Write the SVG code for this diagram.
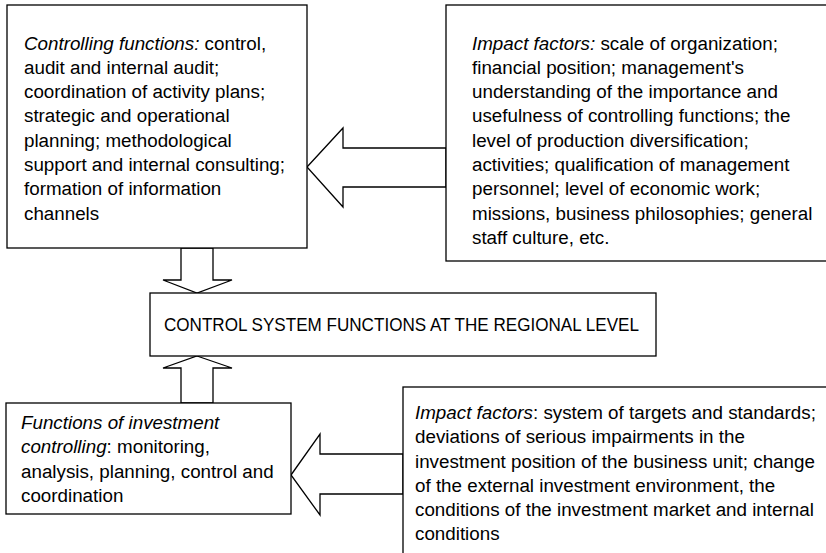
<svg xmlns="http://www.w3.org/2000/svg" width="826" height="553" viewBox="0 0 826 553">
<style>
.box{fill:#fff;stroke:#000;stroke-width:1.3}
.arr{fill:#fff;stroke:#000;stroke-width:1.3;stroke-linejoin:miter}
text{font-family:"Liberation Sans",Arial,sans-serif;font-size:18.8px;fill:#000}
.it{font-style:italic}
.c{font-size:17.5px}
</style>
<rect width="826" height="553" fill="#fff"/>
<g id="connectors">
<polygon class="arr" points="307,167 343,128 343,148 446,148 446,187 343,187 343,207"/>
<polygon class="arr" points="181,248 213,248 213,280 232,280 197,293 163,280 181,280"/>
<polygon class="arr" points="197,356 232,368 213,368 213,403 181,403 181,368 163,368"/>
<polygon class="arr" points="291,475 320,434 320,454 403,454 403,494 320,494 320,515"/>
</g>
<g id="controlling-functions">
<rect class="box" x="7" y="5" width="300" height="243"/>
<text x="24" y="49.5"><tspan class="it">Controlling functions:</tspan> control,</text>
<text x="24" y="73.8">audit and internal audit;</text>
<text x="24" y="98.1">coordination of activity plans;</text>
<text x="24" y="122.4">strategic and operational</text>
<text x="24" y="146.7">planning; methodological</text>
<text x="24" y="171">support and internal consulting;</text>
<text x="24" y="195.3">formation of information</text>
<text x="24" y="219.6">channels</text>
</g>
<g id="impact-factors-top">
<rect class="box" x="446" y="5" width="390" height="256"/>
<text x="472" y="49.5"><tspan class="it">Impact factors:</tspan> scale of organization;</text>
<text x="472" y="73.8">financial position; management's</text>
<text x="472" y="98.1">understanding of the importance and</text>
<text x="472" y="122.4">usefulness of controlling functions; the</text>
<text x="472" y="146.7">level of production diversification;</text>
<text x="472" y="171">activities; qualification of management</text>
<text x="472" y="195.3">personnel; level of economic work;</text>
<text x="472" y="219.6">missions, business philosophies; general</text>
<text x="472" y="243.9">staff culture, etc.</text>
</g>
<g id="control-system">
<rect class="box" x="150" y="293" width="506" height="63"/>
<text class="c" x="164" y="331" textLength="475" lengthAdjust="spacingAndGlyphs">CONTROL SYSTEM FUNCTIONS AT THE REGIONAL LEVEL</text>
</g>
<g id="investment-controlling">
<rect class="box" x="6" y="403" width="285" height="111"/>
<text x="21" y="428.5" class="it">Functions of investment</text>
<text x="21" y="453"><tspan class="it">controlling</tspan>: monitoring,</text>
<text x="21" y="477.5">analysis, planning, control and</text>
<text x="21" y="502">coordination</text>
</g>
<g id="impact-factors-bottom">
<rect class="box" x="403" y="387" width="433" height="180"/>
<text x="415" y="419"><tspan class="it">Impact factors</tspan>: system of targets and standards;</text>
<text x="415" y="443">deviations of serious impairments in the</text>
<text x="415" y="467.5">investment position of the business unit; change</text>
<text x="415" y="491.5">of the external investment environment, the</text>
<text x="415" y="515.5">conditions of the investment market and internal</text>
<text x="415" y="540">conditions</text>
</g>
</svg>
